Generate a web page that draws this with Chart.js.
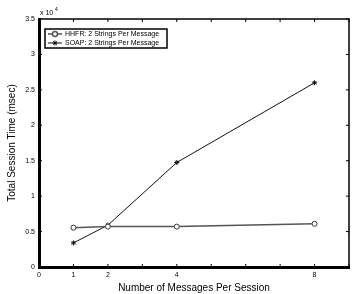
<!DOCTYPE html>
<html>
<head>
<meta charset="utf-8">
<script src="https://cdn.jsdelivr.net/npm/chart.js@4"></script>
<style>
    html, body { margin: 0; padding: 0; background: #fff; }
    #wrap { width: 354px; height: 294px; }
</style>
</head>
<body>
<div id="wrap"><canvas id="grafico" width="354" height="294"></canvas></div>
<script>
const messages = [1, 2, 4, 8];
const hhfrTimes = [5550, 5700, 5700, 6100];
const soapTimes = [3400, 5900, 14750, 26000];
const xLabels = [0, 1, 2, 4, 8];
const seriesNames = ['HHFR: 2 Strings Per Message', 'SOAP: 2 Strings Per Message'];

const fonte = 'Liberation Sans, Arial, sans-serif';

// ticks inward, thin top/right box, legend and the x 10^4 exponent
const boxPlugin = {
    id: 'boxPlugin',
    afterDraw(chart) {
        const ctx = chart.ctx;
        const a = chart.chartArea;
        const x = chart.scales.x, y = chart.scales.y;
        ctx.save();
        ctx.strokeStyle = '#000';
        ctx.lineWidth = 1.5;
        ctx.beginPath();
        ctx.moveTo(a.left, a.top); ctx.lineTo(a.right, a.top); ctx.lineTo(a.right, a.bottom);
        ctx.stroke();

        ctx.lineWidth = 1;
        ctx.beginPath();
        for (let v = 0; v <= 9; v++) {
            const px = x.getPixelForValue(v);
            ctx.moveTo(px, a.bottom); ctx.lineTo(px, a.bottom - 3);
            ctx.moveTo(px, a.top); ctx.lineTo(px, a.top + 3);
        }
        for (let v = 0; v <= 35000; v += 5000) {
            const py = y.getPixelForValue(v);
            ctx.moveTo(a.left, py); ctx.lineTo(a.left + 3, py);
            ctx.moveTo(a.right, py); ctx.lineTo(a.right - 3, py);
        }
        ctx.stroke();

        // exponent
        ctx.fillStyle = '#000';
        ctx.textBaseline = 'alphabetic';
        ctx.font = '7px ' + fonte;
        ctx.fillText('x 10', a.left + 1, a.top - 4);
        ctx.font = '5px ' + fonte;
        ctx.fillText('4', a.left + 16, a.top - 8);

        // legend
        const lx = 45, ly = 29, lw = 122, lh = 19;
        ctx.fillStyle = '#fff';
        ctx.fillRect(lx, ly, lw, lh);
        ctx.strokeStyle = '#000';
        ctx.lineWidth = 1.5;
        ctx.strokeRect(lx, ly, lw, lh);
        chart.data.datasets.forEach((ds, i) => {
            const cy = ly + 5 + i * 9;
            ctx.strokeStyle = ds.borderColor;
            ctx.lineWidth = ds.borderWidth;
            ctx.beginPath();
            ctx.moveTo(lx + 3, cy); ctx.lineTo(lx + 17, cy);
            ctx.stroke();
            Chart.helpers.drawPoint(ctx, {
                pointStyle: ds.pointStyle, radius: ds.pointRadius, borderWidth: 1, rotation: 0
            }, lx + 10, cy);
            ctx.fillStyle = '#000';
            ctx.font = '7px ' + fonte;
            ctx.textBaseline = 'middle';
            ctx.fillText(ds.label, lx + 20, cy);
        });
        ctx.restore();
    }
};

new Chart(document.getElementById('grafico').getContext('2d'), {
    type: 'line',
    data: {
        datasets: [{
            label: seriesNames[0],
            data: messages.map((m, i) => ({ x: m, y: hhfrTimes[i] })),
            borderColor: '#555',
            borderWidth: 1.5,
            pointStyle: 'circle',
            pointRadius: 2.5,
            pointBorderColor: '#333',
            pointBackgroundColor: '#fff',
            pointBorderWidth: 1
        }, {
            label: seriesNames[1],
            data: messages.map((m, i) => ({ x: m, y: soapTimes[i] })),
            borderColor: '#111',
            borderWidth: 1,
            pointStyle: 'star',
            pointRadius: 2.5,
            pointBorderColor: '#111',
            pointBorderWidth: 1
        }]
    },
    options: {
        responsive: false,
        animation: false,
        layout: { padding: { top: 19, right: 4, left: 6, bottom: 0 } },
        plugins: { legend: { display: false }, tooltip: { enabled: false } },
        scales: {
            x: {
                type: 'linear',
                min: 0, max: 9,
                afterFit: s => { s.height = 27; },
                grid: { display: false, drawTicks: false },
                border: { color: '#000', width: 3 },
                ticks: {
                    stepSize: 1,
                    autoSkip: false,
                    maxRotation: 0,
                    padding: 4,
                    color: '#000',
                    font: { size: 7, family: fonte },
                    callback: v => xLabels.includes(v) ? String(v) : ''
                },
                title: {
                    display: true,
                    text: 'Number of Messages Per Session',
                    color: '#000',
                    font: { size: 10, family: fonte },
                    padding: { top: 1, bottom: 0 }
                }
            },
            y: {
                min: 0, max: 35000,
                afterFit: s => { s.width = 33; },
                grid: { display: false, drawTicks: false },
                border: { color: '#000', width: 3 },
                ticks: {
                    stepSize: 5000,
                    padding: 4,
                    color: '#000',
                    font: { size: 7, family: fonte },
                    callback: v => String(v / 10000)
                },
                title: {
                    display: true,
                    text: 'Total Session Time (msec)',
                    color: '#000',
                    font: { size: 10, family: fonte },
                    padding: { top: 0, bottom: 0 }
                }
            }
        }
    },
    plugins: [boxPlugin]
});
</script>
</body>
</html>
